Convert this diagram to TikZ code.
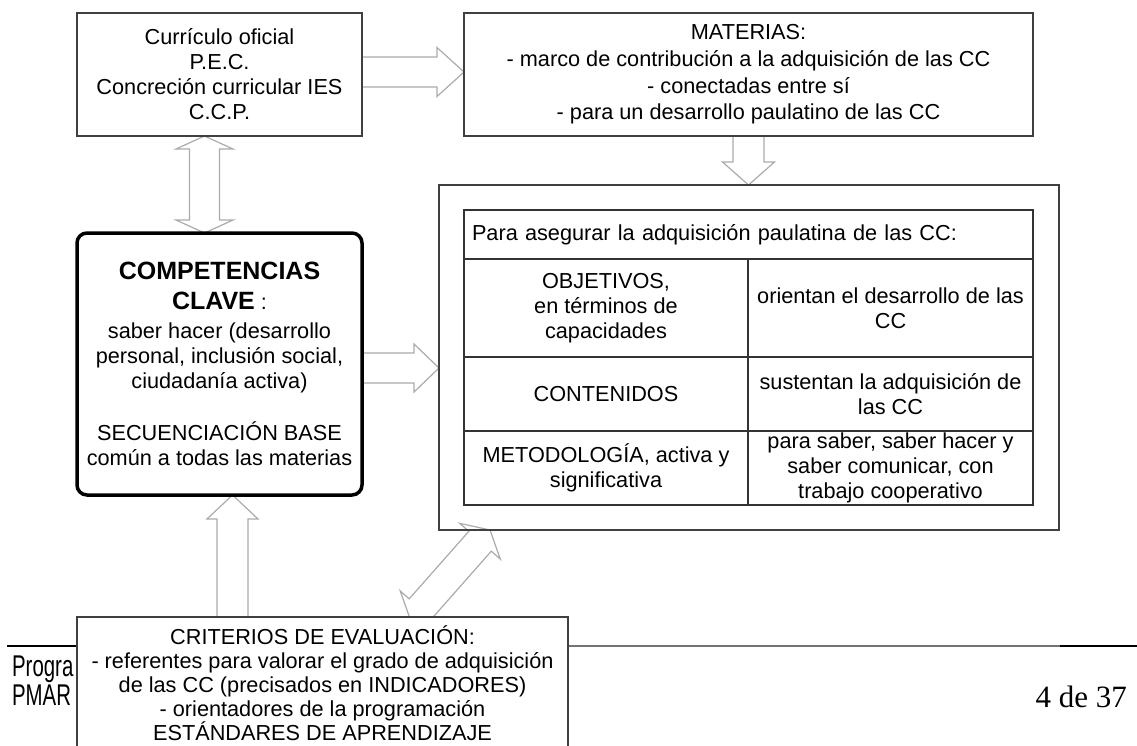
\documentclass[tikz,border=0pt]{standalone}
\usepackage{fontspec}
\setmainfont{Liberation Sans}
\newfontfamily\pagefont{Liberation Serif}
\usetikzlibrary{positioning, calc}
\pgfdeclarelayer{background}
\pgfsetlayers{background,main}

% hollow block arrow: from, to, shaft half width, head half width, head length
\newcommand{\hollowarrow}[5]{%
  \coordinate (ha) at ($(#2)!#5!(#1)$);
  \draw[arrowline] ($(#1)!#3!90:(#2)$) -- ($(ha)!#3!-90:(#1)$) -- ($(ha)!#4!-90:(#1)$)
    -- (#2) -- ($(ha)!#4!90:(#1)$) -- ($(ha)!#3!90:(#1)$) -- ($(#1)!#3!-90:(#2)$);
}
% same, with a head at both ends
\newcommand{\hollowdouble}[5]{%
  \coordinate (ha) at ($(#2)!#5!(#1)$);
  \coordinate (hb) at ($(#1)!#5!(#2)$);
  \draw[arrowline] (#1) -- ($(hb)!#4!90:(#2)$) -- ($(hb)!#3!90:(#2)$)
    -- ($(ha)!#3!-90:(#1)$) -- ($(ha)!#4!-90:(#1)$) -- (#2)
    -- ($(ha)!#4!90:(#1)$) -- ($(ha)!#3!90:(#1)$)
    -- ($(hb)!#3!-90:(#2)$) -- ($(hb)!#4!-90:(#2)$) -- cycle;
}

\begin{document}
\begin{tikzpicture} [
						x=1pt, y=-1pt,
						font=\fontsize{21.7}{25}\selectfont,
						box/.style={draw=black!75, line width=1.3pt, fill=white, inner sep=0pt, outer sep=0pt, align=center},
						keybox/.style={draw=black, line width=3.5pt, rounded corners=10pt, fill=white, inner sep=0pt, outer sep=0pt, align=center},
						cell/.style={draw=black!80, line width=1.2pt, inner sep=0pt, outer sep=0pt, align=center},
						arrowline/.style={draw=black!33, line width=1.2pt, line join=miter}
					]

\path[use as bounding box, clip] (0,0) rectangle (1137,745);

\node (1) [box, minimum width=285, minimum height=123] at (219.5,74.5) {Currículo oficial\\P.E.C.\\Concreción curricular IES\\C.C.P.};
\node (2) [box, minimum width=569, minimum height=123, right=102pt of 1, font=\fontsize{21.7}{26.7}\selectfont] {MATERIAS:\\- marco de contribución a la adquisición de las CC\\- conectadas entre sí\\- para un desarrollo paulatino de las CC};
\node (3) [keybox, minimum width=285, minimum height=262, below=97pt of 1] {{\fontsize{25}{30}\selectfont\bfseries COMPETENCIAS}\\[5pt]{\fontsize{25}{30}\selectfont\bfseries CLAVE}\ :\\[4pt]saber hacer (desarrollo\\personal, inclusión social,\\ciudadanía activa)\\[27pt]SECUENCIACIÓN BASE\\común a todas las materias};
\node (4) [box, fill=none, minimum width=620, minimum height=345] at (749,357.5) {};

% table
\node (h) [cell, minimum width=569, minimum height=49, text width=553, align=left] at (748.5,234.5) {Para asegurar la adquisición paulatina de las CC:};
\node (t11) [cell, minimum width=284, minimum height=98, below right=0pt of h.south west] {OBJETIVOS,\\en términos de\\capacidades};
\node (t12) [cell, minimum width=285, minimum height=98, right=0pt of t11] {orientan el desarrollo de las\\CC};
\node (t21) [cell, minimum width=284, minimum height=74, below=0pt of t11] {CONTENIDOS};
\node (t22) [cell, minimum width=285, minimum height=74, below=0pt of t12] {sustentan la adquisición de\\las CC};
\node (t31) [cell, minimum width=284, minimum height=74, below=0pt of t21] {METODOLOGÍA, activa y\\significativa};
\node (t32) [cell, minimum width=285, minimum height=74, below=0pt of t22] {para saber, saber hacer y\\saber comunicar, con\\trabajo cooperativo};

% page footer
\node (pg) [anchor=base west, inner sep=0pt, xscale=0.68, font=\fontsize{30}{34}\selectfont] at (12,676) {Progra};
\node (pm) [anchor=base west, inner sep=0pt, xscale=0.68, font=\fontsize{30}{34}\selectfont] at (12,705) {PMAR};
\node (pn) [anchor=base east, inner sep=0pt, font=\pagefont\fontsize{31}{36}\selectfont] at (1127,707) {4 de 37};

\node (5) [box, minimum width=491, minimum height=132, anchor=north, font=\fontsize{21.7}{24}\selectfont] at (322.5,617) {CRITERIOS DE EVALUACIÓN:\\- referentes para valorar el grado de adquisición\\de las CC (precisados en INDICADORES)\\- orientadores de la programación\\ESTÁNDARES DE APRENDIZAJE};

\coordinate (1e) at ([yshift=2.5pt]1.east);
\coordinate (2w) at (1e -| 2.west);
\coordinate (2s) at (2.south);
\coordinate (4n) at (2.south |- 4.north);
\coordinate (1s) at ([xshift=-15pt]1.south);
\coordinate (3n) at ([xshift=-15pt]3.north);
\coordinate (3e) at ([yshift=-4pt]3.east);
\coordinate (4w) at (3e -| 4.west);
\coordinate (5n) at ([xshift=-90pt]5.north);
\coordinate (3s) at (5n |- 3.south);
\coordinate (5d) at ([xshift=88pt, yshift=-3pt]5.north);
\coordinate (4s) at ([xshift=51pt]4.south west);

\begin{pgfonlayer}{background}
\draw[black, line width=1.6pt] (7,646) -- (1137,646);
\draw[black!55, line width=1.2pt] (568,646) -- (1060,646);

\hollowarrow{1e}{2w}{15pt}{24.5pt}{27pt}
\hollowarrow{2s}{4n}{15.5pt}{26pt}{23pt}
\hollowdouble{1s}{3n}{15pt}{28.5pt}{13pt}
\hollowarrow{3e}{4w}{15pt}{24pt}{25pt}
\hollowarrow{5n}{3s}{15.5pt}{25.5pt}{24pt}
\hollowdouble{5d}{4s}{15pt}{27pt}{15pt}
\end{pgfonlayer}
\end{tikzpicture}
\end{document}
